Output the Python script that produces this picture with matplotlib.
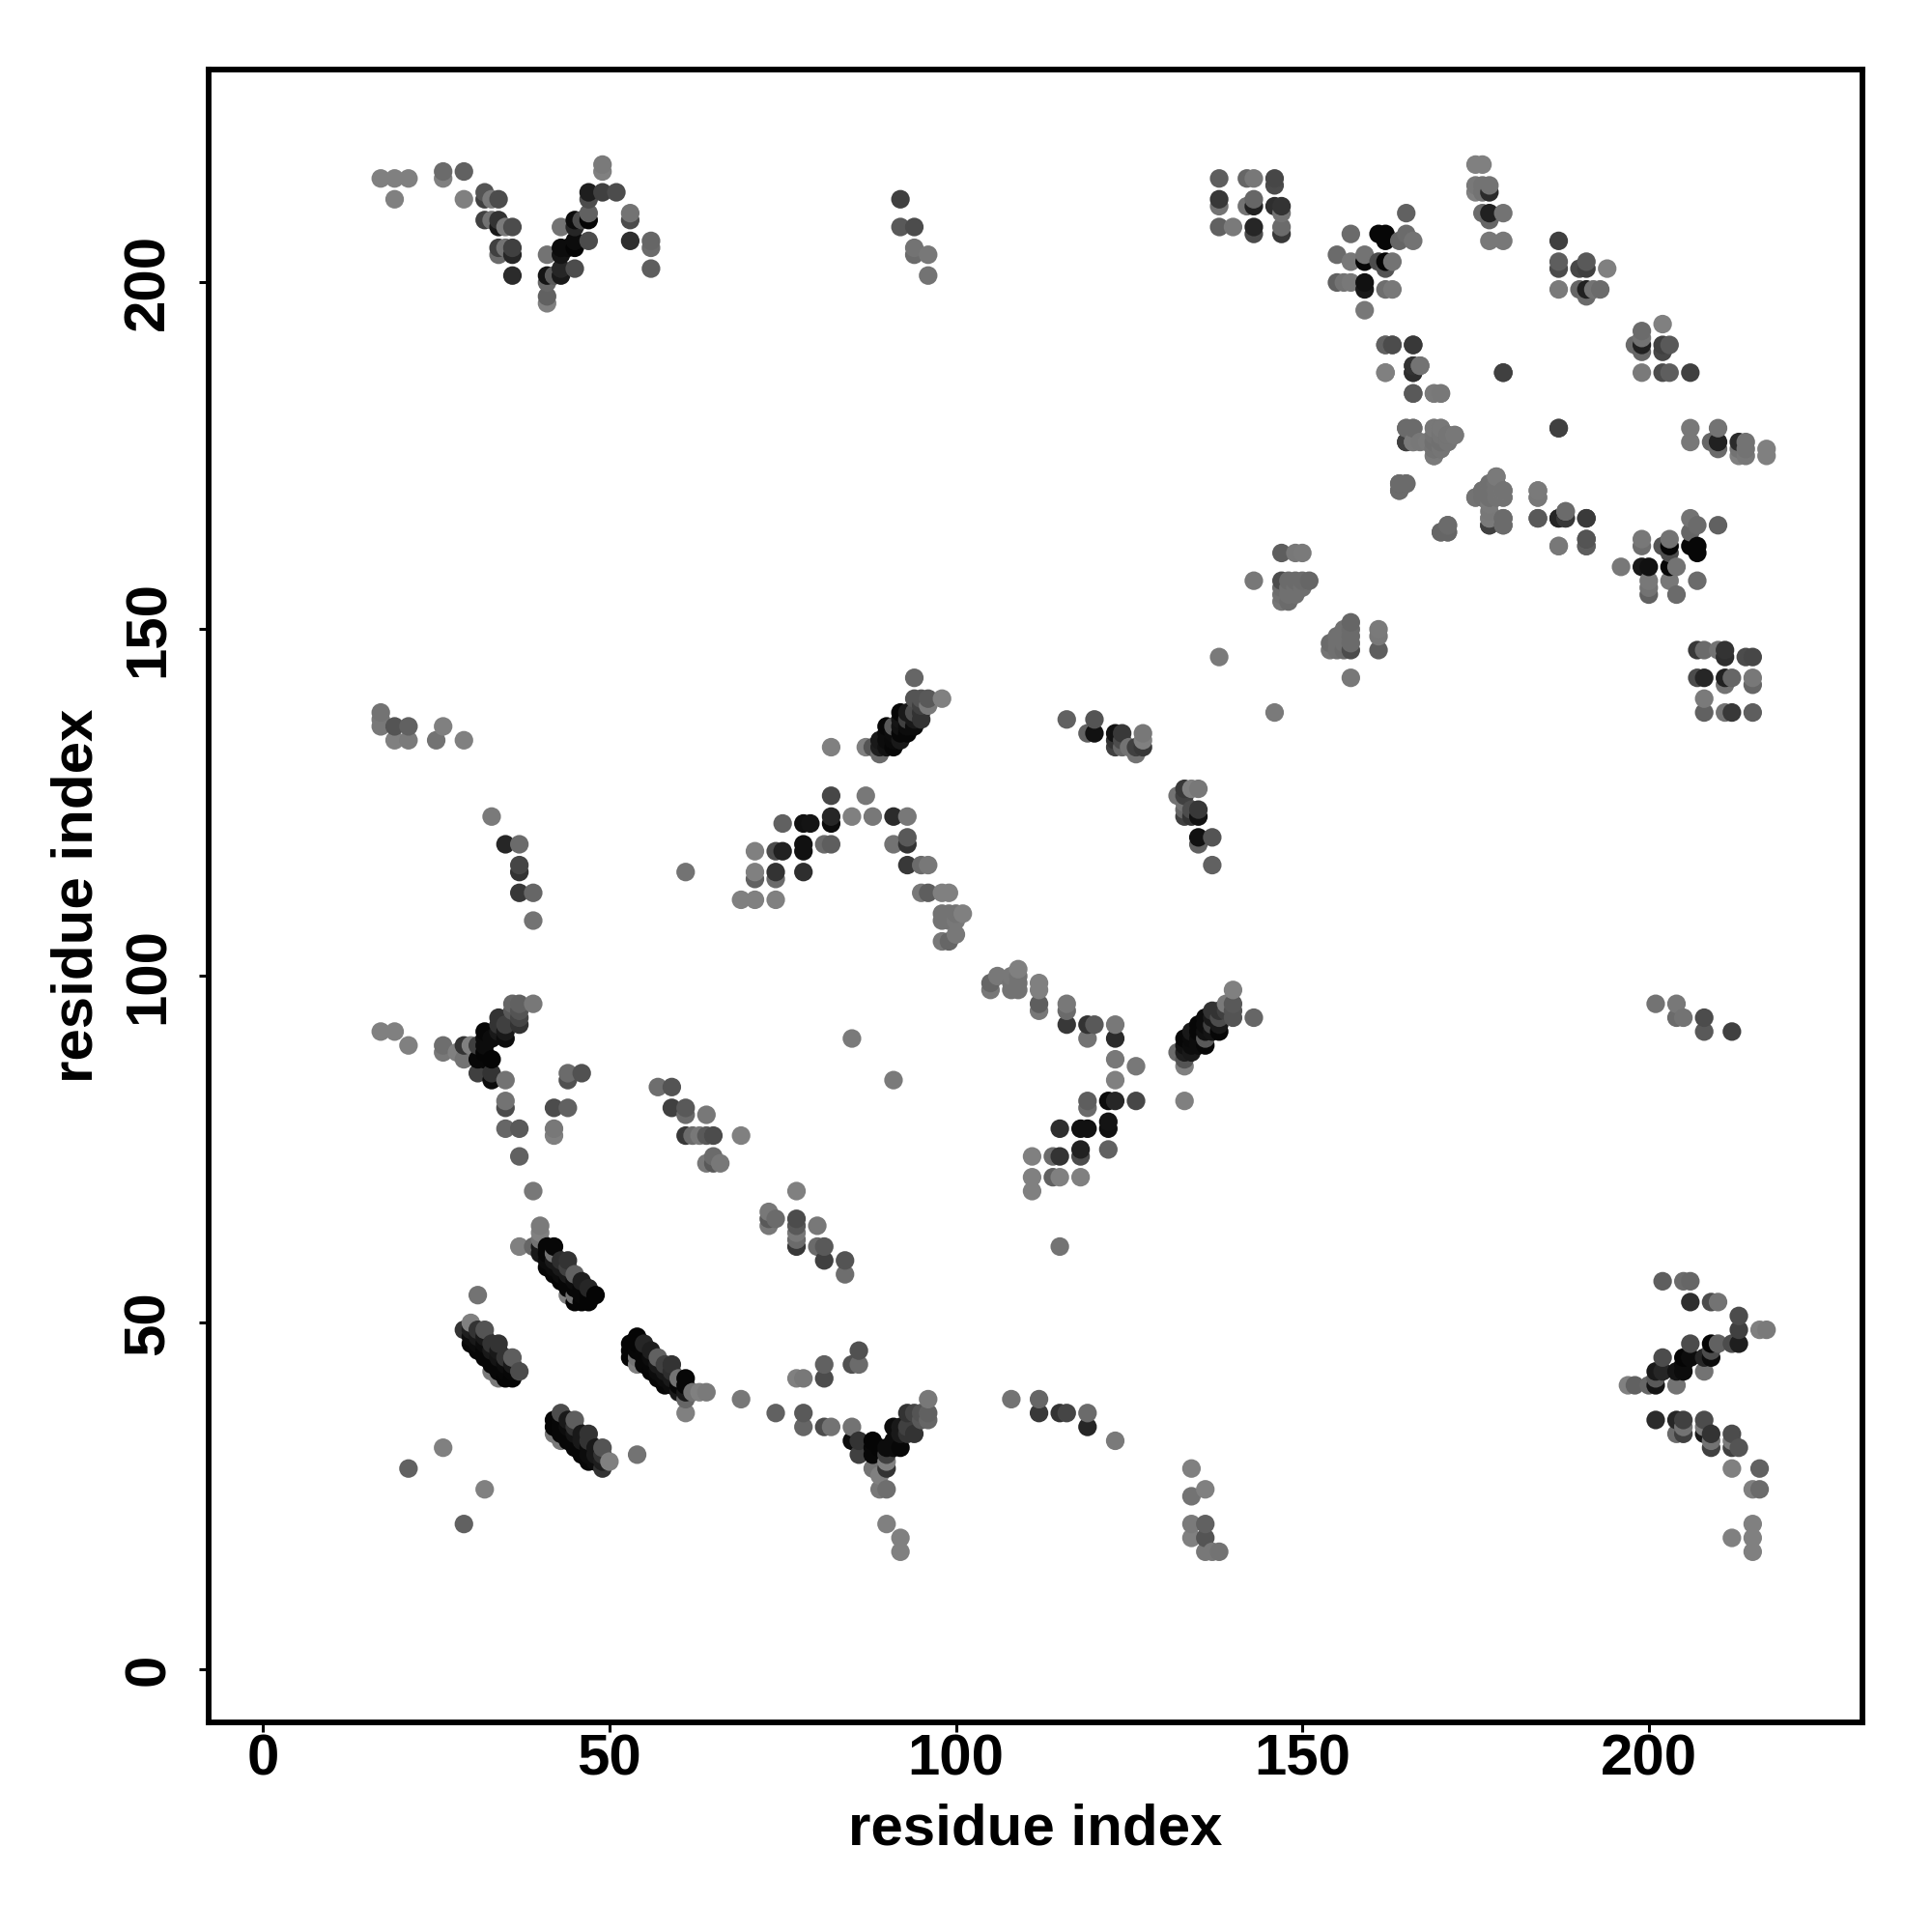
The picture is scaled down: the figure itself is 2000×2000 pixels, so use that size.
import numpy as np
import matplotlib
matplotlib.use('Agg')
import matplotlib.pyplot as plt

# contact map: only i<j is listed, (residue i, residue j, gray level of the dot)
# the map is symmetric so each pair gets drawn on both sides of the diagonal
nterm_cterm = [
    (17,215,.5),(19,215,.5),(21,215,.5),(19,212,.5),(26,216,.42),(26,215,.5),(29,216,.38),(29,212,.5),
    (32,213,.33),(32,212,.25),(33,212,.48),(34,212,.3),(32,209,.25),(33,209,.45),(34,209,.2),(34,208,.1),
    (35,208,.48),(36,208,.3),(34,205,.25),(34,204,.42),(35,205,.45),(36,205,.25),(36,204,.15),(36,201,.17),
    (41,204,.45),(41,201,.08),(41,200,.4),(42,201,.35),(43,208,.45),(41,198,.38),(41,197,.5),
    (43,205,.05),(43,204,.08),(43,202,.15),(43,201,.1),(44,205,.05),(45,209,.05),(45,208,.15),(45,206,.05),
    (45,205,.02),(45,202,.3),(46,209,.3),(47,213,.12),(47,212,.3),(47,210,.38),(47,209,.02),(47,206,.3),
    (49,217,.48),(49,216,.5),(49,213,.25),(51,213,.3),(53,210,.45),(53,209,.3),(53,206,.18),
    (56,206,.4),(56,205,.42),(56,202,.37),
    (92,212,.25),(92,208,.35),(94,208,.3),(94,205,.45),(94,204,.42),(96,204,.47),(96,201,.45),
]
cterm_block = [
    (138,215,.37),(142,215,.4),(143,215,.47),(146,215,.28),(146,214,.3),(138,212,.22),(138,211,.45),
    (142,211,.45),(143,212,.4),(143,211,.13),(146,211,.18),(147,211,.2),(147,210,.45),(147,208,.42),
    (147,207,.22),(138,208,.38),(140,208,.48),(143,208,.15),(143,207,.3),
    (157,207,.42),(165,210,.38),(165,207,.42),(166,206,.45),(164,206,.4),(161,207,.03),(162,207,.03),(162,206,.03),
    (155,204,.42),(157,203,.47),(159,204,.45),(159,203,.03),(161,203,.3),(162,203,.02),(162,202,.33),(163,203,.45),
    (155,200,.38),(156,200,.45),(157,200,.47),(159,200,.07),(159,199,.1),(159,196,.47),(162,199,.43),(163,199,.47),
    (175,217,.5),(176,217,.5),(175,214,.47),(175,213,.5),(176,214,.45),(177,214,.45),(177,213,.17),(176,213,.45),
    (176,210,.42),(177,210,.13),(177,209,.4),(179,210,.45),(177,206,.47),(179,206,.47),
    (187,206,.25),(187,203,.37),(187,202,.3),(187,199,.48),(190,202,.28),(191,203,.35),(191,202,.25),(194,202,.5),
    (190,199,.4),(191,199,.13),(191,198,.42),(192,199,.45),(193,199,.42),
    (162,191,.37),(163,191,.33),(166,191,.23),(166,188,.22),(166,187,.15),(167,188,.42),(162,187,.47),(179,187,.25),
    (166,184,.35),(169,184,.47),(170,184,.48),(165,179,.42),(166,179,.42),(169,179,.45),(170,179,.45),
    (165,177,.25),(166,177,.48),(167,177,.47),(169,178,.45),(170,178,.45),(171,178,.45),(172,178,.48),
    (169,177,.44),(170,177,.44),(171,177,.44),(169,176,.44),(170,176,.44),(169,175,.45),(187,179,.25),
    (164,171,.4),(165,171,.42),(164,170,.4),(178,172,.47),(177,171,.46),(178,171,.46),(176,170,.46),(177,170,.44),
    (178,170,.46),(179,170,.47),(175,169,.48),(176,169,.45),(177,169,.44),(179,169,.47),(177,168,.48),
    (177,166,.48),(177,165,.25),(179,166,.42),(179,165,.42),(184,170,.47),(184,169,.48),(184,166,.35),
    (187,166,.18),(188,166,.2),(188,167,.45),(191,166,.22),(187,162,.5),(191,163,.3),(191,162,.38),
    (171,165,.42),(170,164,.42),(171,164,.42),
    (143,157,.47),(147,161,.37),(149,161,.47),(150,161,.48),(147,157,.3),(148,157,.42),(149,157,.42),
    (150,157,.42),(151,157,.4),(147,156,.42),(148,156,.44),(149,156,.44),(150,156,.44),(147,155,.44),
    (148,155,.44),(149,155,.44),(147,154,.46),(148,154,.42),(138,146,.48),
]
band_30_45 = [
    (29,49,.2),(30,47,.03),(30,48,.05),(30,49,.12),(30,50,.5),(31,46,.03),(31,47,.05),(31,48,.1),(31,49,.2),
    (32,45,.03),(32,46,.03),(32,47,.05),(32,48,.1),(32,49,.33),(33,43,.48),(33,44,.03),(33,45,.03),(33,46,.1),
    (33,47,.2),(34,42,.48),(34,43,.03),(34,44,.03),(34,45,.08),(34,46,.1),(34,47,.2),(35,42,.02),(35,43,.03),
    (35,44,.05),(35,45,.2),(36,42,.02),(36,43,.03),(36,44,.1),(36,45,.37),(37,43,.3),
    (31,54,.45),(26,32,.5),(21,29,.38),
]
band_41_57 = [
    (41,58,.03),(41,59,.05),(41,60,.03),(41,61,.03),(42,57,.03),(42,58,.05),(42,59,.1),(42,60,.45),(42,61,.03),
    (43,56,.02),(43,57,.05),(43,58,.1),(43,59,.18),(44,54,.5),(44,55,.03),(44,56,.03),(44,57,.1),(44,58,.25),(44,59,.2),
    (45,53,.02),(45,54,.45),(45,55,.03),(45,56,.05),(45,57,.38),(46,53,.02),(46,54,.03),(46,55,.03),(46,56,.12),
    (47,53,.02),(47,54,.02),(47,55,.15),(48,54,.02),
    (37,61,.5),(39,61,.4),(40,60,.1),(40,61,.1),(40,62,.45),(40,63,.5),(40,64,.48),
]
left_mid = [
    (17,138,.45),(17,137,.47),(17,136,.47),(19,136,.33),(21,136,.38),(19,134,.5),(21,134,.48),(25,134,.45),
    (26,136,.5),(29,134,.5),(33,123,.48),(35,119,.15),(37,119,.42),(37,116,.27),(37,115,.2),(37,112,.22),
    (39,112,.4),(39,108,.45),(61,115,.45),
    (17,92,.5),(19,92,.5),(21,90,.5),(26,90,.43),(26,89,.47),(28,89,.5),(29,90,.2),(29,88,.45),(30,90,.5),
    (31,90,.25),(31,88,.03),(31,86,.25),(32,92,.03),(32,91,.05),(32,90,.05),(32,89,.02),(32,88,.03),
    (33,91,.05),(33,88,.02),(33,86,.2),(33,85,.05),(34,94,.2),(34,93,.2),(34,92,.1),(35,93,.25),(35,92,.1),
    (35,91,.05),(36,96,.4),(36,95,.35),(37,96,.38),(37,95,.33),(37,94,.27),(37,93,.2),(39,96,.47),
    (35,85,.45),(35,82,.45),(35,81,.3),(35,78,.4),(37,78,.35),(37,74,.38),(39,69,.47),
    (42,81,.3),(44,81,.38),(42,78,.47),(42,77,.5),(44,86,.42),(44,85,.32),(46,86,.32),
]
mid_strand = [
    (57,84,.43),(59,84,.33),(59,81,.25),(61,81,.35),(61,80,.42),(64,80,.47),(61,77,.22),(62,77,.42),(63,77,.47),
    (64,77,.35),(65,77,.3),(69,77,.5),(65,74,.42),(64,73,.47),(65,73,.35),(66,73,.47),
    (69,111,.5),(71,111,.5),(74,111,.5),(71,115,.5),(71,114,.38),(74,115,.2),(74,114,.42),(78,115,.18),
    (71,118,.5),(74,118,.3),(75,118,.13),(78,119,.07),(78,118,.07),(75,122,.38),(78,122,.07),(79,122,.08),
    (82,126,.28),(82,123,.15),(82,122,.05),(81,119,.42),(82,119,.37),(82,133,.5),
    (85,123,.5),(87,126,.47),(88,123,.47),(91,123,.17),(93,123,.47),(91,119,.45),(93,120,.35),(93,119,.2),
    (93,116,.22),(95,116,.42),(96,116,.47),(95,112,.47),(96,112,.37),(98,112,.5),(99,112,.5),
    (98,109,.45),(99,109,.45),(98,108,.45),(99,108,.45),(100,109,.45),(101,109,.5),(100,108,.47),
    (98,105,.47),(99,105,.4),(100,106,.47),(85,91,.48),
]
band_87_98 = [
    (87,133,.5),(88,133,.33),(89,132,.42),(89,133,.12),(89,134,.1),(90,133,.07),(90,134,.05),(90,135,.05),(90,136,.03),
    (91,133,.03),(91,134,.04),(91,135,.05),(91,136,.35),(92,134,.1),(92,135,.03),(92,136,.07),(92,137,.08),(92,138,.03),
    (93,135,.03),(93,136,.05),(93,137,.25),(93,138,.1),(94,136,.05),(94,137,.1),(94,138,.3),(94,140,.33),(94,143,.4),
    (95,137,.2),(95,138,.2),(95,139,.25),(95,140,.33),(96,139,.48),(96,140,.35),(98,140,.5),
    (116,137,.38),(120,137,.33),(119,135,.38),(120,135,.07),(123,135,.07),(124,135,.22),(123,134,.2),(123,133,.25),
    (124,134,.3),(124,133,.4),(125,133,.45),(126,132,.45),(126,133,.25),(127,135,.47),(127,134,.5),(127,133,.22),
]

all_contacts = nterm_cterm + cterm_block + band_30_45 + band_41_57 + left_mid + mid_strand + band_87_98
res_i = np.array([c[0] for c in all_contacts])
res_j = np.array([c[1] for c in all_contacts])
gray = np.array([c[2] for c in all_contacts])

x = np.concatenate([res_i, res_j])
y = np.concatenate([res_j, res_i])
g = np.concatenate([gray, gray])
order = np.lexsort((y, x))

plt.rcParams['font.family'] = ['Liberation Sans', 'DejaVu Sans']
plt.rcParams['font.weight'] = 'bold'

fig = plt.figure(figsize=(10, 10), dpi=200)
ax = fig.add_axes([216/2000, 1 - 1783/2000, 1712/2000, 1711/2000])
ax.scatter(x[order], y[order], c=g[order], cmap='gray', vmin=0, vmax=1, s=48, linewidths=0, clip_on=True)

ax.set_xlim(-7.84, 230.84)
ax.set_ylim(-7.6, 230.7)
ax.set_xticks([0, 50, 100, 150, 200])
ax.set_yticks([0, 50, 100, 150, 200])
ax.tick_params(axis='x', length=3.5, width=1.1, labelsize=21.6, pad=0.5)
ax.tick_params(axis='y', length=3.5, width=1.1, labelsize=21.6, pad=8.8)
for lab in ax.get_yticklabels():
    lab.set_rotation(90)
    lab.set_va('center')
for s in ax.spines.values():
    s.set_linewidth(2.1)

ax.set_xlabel('residue index', fontsize=21.6, fontweight='bold', labelpad=6.2)
ax.set_ylabel('residue index', fontsize=21.6, fontweight='bold', labelpad=7)

fig.savefig('out.png', dpi=200)
